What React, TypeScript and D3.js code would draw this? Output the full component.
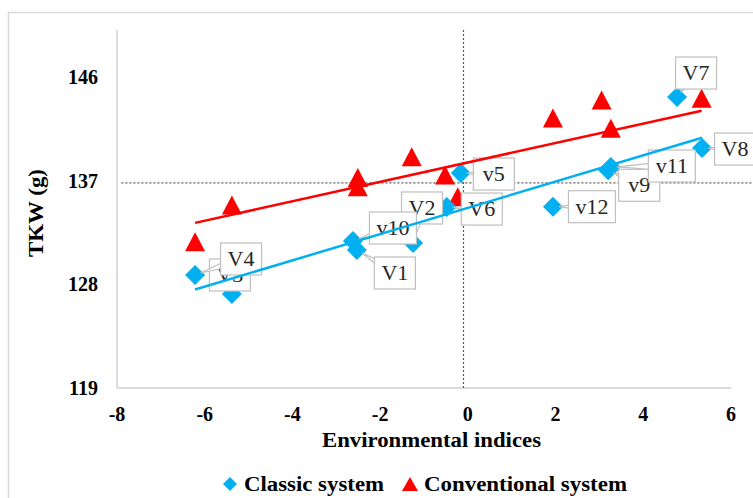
import { scaleLinear, extent, line as d3Line } from 'd3';

// classic system (blue diamonds)
const classicNames = ['V1', 'V2', 'V3', 'V4', 'v5', 'V6', 'V7', 'V8', 'v9', 'v10', 'v11', 'v12'];
const classicX = [-2.53, -1.25, -5.38, -6.22, -0.16, -0.48, 4.77, 5.34, 3.2, -2.62, 3.26, 1.94];
const classicY = [130.98, 131.59, 127.16, 128.81, 137.66, 134.71, 144.26, 139.83, 137.9, 131.76, 138.18, 134.74];

// conventional system (red triangles)
const convX = [-6.22, -5.38, -2.51, -2.51, -1.28, -0.52, -0.23, 1.94, 3.05, 3.26, 5.33];
const convY = [131.7, 134.89, 136.47, 137.27, 139.08, 137.49, 135.61, 142.44, 144.0, 141.54, 144.15];

// linear trend lines: [slope, intercept]
const classicTrend = [1.14, 134.64];
const convTrend = [0.843, 138.58];

// means (dotted cross)
const meanX = -0.1;
const meanY = 136.8;

const xTicks = [-8, -6, -4, -2, 0, 2, 4, 6];
const yTicks = [119, 128, 137, 146];

// label box offsets relative to the point (pixels)
const labelOffsets: [number, number][] = [
  [38, 23], [9, -35], [-2, -19], [46, -16], [33, 1], [35, 2],
  [19, -24], [33, 1], [31, 15], [40, -13], [61, -1], [39, 0],
];

const FONT = '"Liberation Serif", "Times New Roman", serif';
const BLUE = '#00B0F0';
const RED = '#FF0000';

const diamond = (cx: number, cy: number, r: number) =>
  `M${cx},${cy - r}L${cx + r},${cy}L${cx},${cy + r}L${cx - r},${cy}Z`;
const triangle = (cx: number, cy: number, w: number, h: number) =>
  `M${cx},${cy - h / 2}L${cx + w / 2},${cy + h / 2}L${cx - w / 2},${cy + h / 2}Z`;

const App = () => {
  const x = scaleLinear().domain([-8, 6]).range([117, 731]);
  const y = scaleLinear().domain([119, 150]).range([388, 30.9]);

  const trendPath = (xs: number[], t: number[]) => {
    const [a, b] = extent(xs) as [number, number];
    const pts: [number, number][] = [a, b].map((v) => [v, t[0] * v + t[1]]);
    return d3Line()
      .x((p) => x(p[0]))
      .y((p) => y(p[1]))(pts) as string;
  };

  const labels = classicNames.map((name, i) => {
    const px = x(classicX[i]);
    const py = y(classicY[i]);
    const [dx, dy] = labelOffsets[i];
    const w = name.length > 2 ? 47 : 41;
    const h = 32;
    const cx = px + dx;
    const cy = py + dy;
    // tail tip sits near the point, base on the box centre
    const ang = Math.atan2(py - cy, px - cx);
    const tipX = px - Math.cos(ang) * 6;
    const tipY = py - Math.sin(ang) * 6;
    const nx = -Math.sin(ang) * 5;
    const ny = Math.cos(ang) * 5;
    return (
      <g key={name}>
        <path
          d={`M${cx + nx},${cy + ny}L${tipX},${tipY}L${cx - nx},${cy - ny}Z`}
          fill="white"
          stroke="#bfbfbf"
          strokeWidth={1.2}
        />
        <rect x={cx - w / 2} y={cy - h / 2} width={w} height={h} fill="white" stroke="#bfbfbf" strokeWidth={1.2} />
        <text x={cx} y={cy + 7} textAnchor="middle" fontSize={22} fontFamily={FONT} fill="#262626">
          {name}
        </text>
      </g>
    );
  });

  return (
    <svg width={753} height={498} style={{ position: 'absolute', left: 0, top: 0, background: 'white' }}>
      <rect x={8.5} y={12.5} width={760} height={500} fill="white" stroke="#d9d9d9" strokeWidth={1.5} />

      {/* axes */}
      <line x1={117} x2={117} y1={30} y2={388} stroke="#d0d0d0" strokeWidth={1.5} />
      <line x1={117} x2={731} y1={388} y2={388} stroke="#d0d0d0" strokeWidth={1.5} />

      {yTicks.map((t) => (
        <text key={t} x={98} y={y(t) + 7} textAnchor="end" fontSize={20} fontWeight="bold" fontFamily={FONT} fill="#000">
          {t}
        </text>
      ))}
      {xTicks.map((t) => (
        <text key={t} x={x(t)} y={421} textAnchor="middle" fontSize={20} fontWeight="bold" fontFamily={FONT} fill="#000">
          {t}
        </text>
      ))}
      <text
        x={322}
        y={447}
        textLength={219}
        lengthAdjust="spacingAndGlyphs"
        fontSize={20}
        fontWeight="bold"
        fontFamily={FONT}
      >
        Environmental indices
      </text>
      <text
        transform="translate(43,257) rotate(-90)"
        textLength={88}
        lengthAdjust="spacingAndGlyphs"
        fontSize={20}
        fontWeight="bold"
        fontFamily={FONT}
      >
        TKW (g)
      </text>

      {/* mean lines */}
      <line x1={x(meanX)} x2={x(meanX)} y1={30} y2={388} stroke="#595959" strokeWidth={1.2} strokeDasharray="2,2" />
      <line x1={x(-7.9)} x2={753} y1={y(meanY)} y2={y(meanY)} stroke="#595959" strokeWidth={1.2} strokeDasharray="2,2" />

      {/* markers */}
      {convX.map((v, i) => (
        <path key={'c' + i} d={triangle(x(v), y(convY[i]), 20, 19)} fill={RED} />
      ))}
      {classicX.map((v, i) => (
        <path key={'b' + i} d={diamond(x(v), y(classicY[i]), 10)} fill={BLUE} />
      ))}

      {labels}

      {/* trend lines */}
      <path d={trendPath(convX, convTrend)} stroke={RED} strokeWidth={2.5} fill="none" />
      <path d={trendPath(classicX, classicTrend)} stroke={BLUE} strokeWidth={2.5} fill="none" />

      {/* legend */}
      <path d={diamond(230, 484, 7)} fill={BLUE} />
      <text x={244} y={491} textLength={140} lengthAdjust="spacingAndGlyphs" fontSize={20} fontWeight="bold" fontFamily={FONT}>
        Classic system
      </text>
      <path d={triangle(410, 484, 16, 14)} fill={RED} />
      <text x={424} y={491} textLength={203} lengthAdjust="spacingAndGlyphs" fontSize={20} fontWeight="bold" fontFamily={FONT}>
        Conventional system
      </text>
    </svg>
  );
};

export default App;
